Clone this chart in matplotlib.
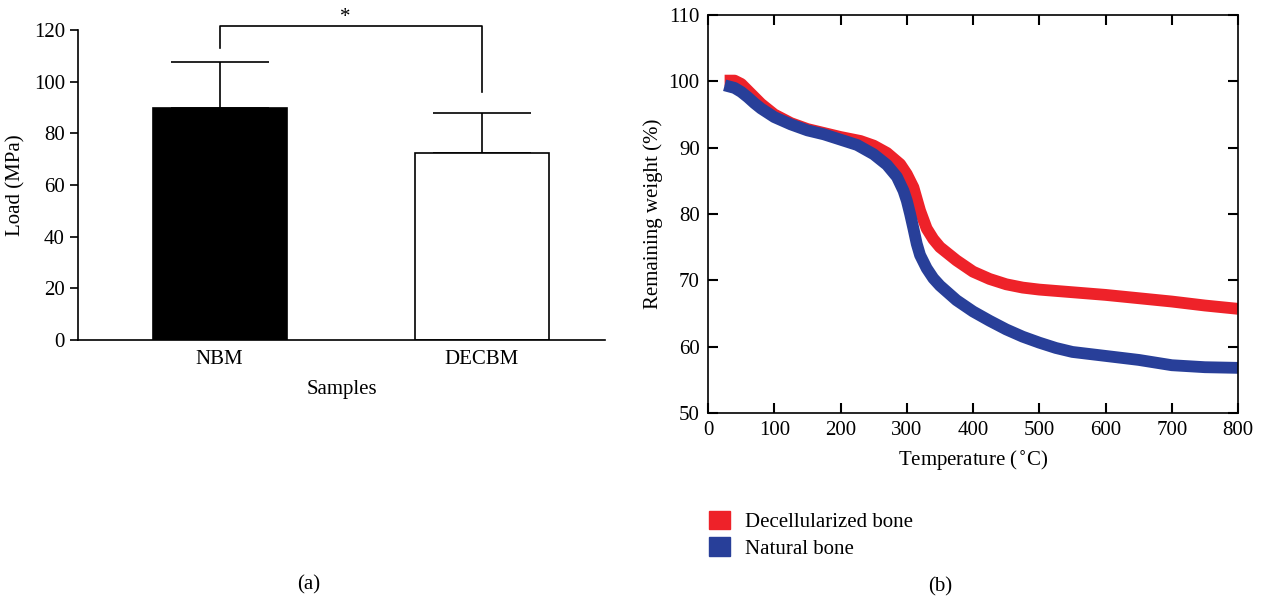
import matplotlib.pyplot as plt
from matplotlib.patches import Patch

plt.rcParams['font.family'] = ['Liberation Serif', 'DejaVu Serif']

# Panel (a): load per sample
samples = ['NBM', 'DECBM']
load_mean = [90.0, 72.5]
load_err = [17.5, 15.5]
bar_colors = ['black', 'white']
# significance bracket (data units)
sig_top = 121.5
sig_legs = [113.0, 96.0]

# Panel (b): TGA curves
temp_dec = [25, 40, 50, 60, 70, 80, 100, 125, 150, 175, 200, 230, 250, 270, 290, 300,
            310, 320, 330, 340, 350, 375, 400, 425, 450, 475, 500, 550, 600, 650, 700, 750, 800]
weight_dec = [100.1, 100.1, 99.6, 98.6, 97.6, 96.6, 95.0, 93.7, 92.8, 92.2, 91.6, 91.0, 90.3, 89.2, 87.5, 86.0,
              84.0, 80.5, 77.8, 76.2, 75.0, 73.0, 71.3, 70.2, 69.4, 68.9, 68.6, 68.2, 67.8, 67.3, 66.8, 66.2, 65.7]
temp_nat = [25, 40, 50, 60, 70, 80, 100, 125, 150, 175, 200, 225, 250, 270, 285, 295, 300,
            305, 310, 315, 320, 330, 340, 350, 375, 400, 425, 450, 475, 500, 525, 550, 600, 650, 700, 750, 800]
weight_nat = [99.4, 99.0, 98.4, 97.6, 96.7, 95.9, 94.6, 93.5, 92.6, 92.0, 91.2, 90.4, 89.0, 87.4, 85.6, 83.5, 82.0,
              80.0, 77.8, 75.5, 73.8, 71.8, 70.3, 69.2, 67.0, 65.3, 63.9, 62.6, 61.5, 60.6, 59.8, 59.2, 58.6, 58.0, 57.2, 56.9, 56.8]

red = '#ee2229'
blue = '#283f99'
fs = 15

fig = plt.figure(figsize=(12.61, 5.98), dpi=100)

# ---------------- (a)
ax1 = fig.add_axes([0.0619, 0.4314, 0.418, 0.5184])
x = [0, 1]
ax1.bar(x, load_mean, width=0.51, color=bar_colors, edgecolor='black', linewidth=1.2, zorder=2)
ax1.errorbar(x, load_mean, yerr=[[0, 0], load_err], fmt='none', ecolor='black',
             elinewidth=1.2, capsize=35, capthick=1.2, zorder=1)
ax1.plot([x[0], x[0], x[1], x[1]], [sig_legs[0], sig_top, sig_top, sig_legs[1]],
         color='black', linewidth=1.2, clip_on=False)
ax1.text(0.48, 125, '*', ha='center', va='center', fontsize=fs)
ax1.set_xlim(-0.54, 1.47)
ax1.set_ylim(0, 120)
ax1.set_yticks(range(0, 121, 20))
ax1.set_xticks(x)
ax1.set_xticklabels(samples, fontsize=fs)
ax1.tick_params(axis='x', length=0, pad=7)
ax1.tick_params(axis='y', direction='out', length=6, width=1.2, labelsize=fs)
ax1.spines['top'].set_visible(False)
ax1.spines['right'].set_visible(False)
for s in ['left', 'bottom']:
    ax1.spines[s].set_linewidth(1.2)
ax1.set_ylabel('Load (MPa)', fontsize=fs, labelpad=6)
ax1.set_xlabel('Samples', fontsize=fs, labelpad=8)

# ---------------- (b)
ax2 = fig.add_axes([0.5615, 0.3094, 0.4203, 0.6656])
ax2.plot(temp_dec, weight_dec, color=red, linewidth=8.5, solid_capstyle='butt')
ax2.plot(temp_nat, weight_nat, color=blue, linewidth=8.5, solid_capstyle='butt')
ax2.set_xlim(0, 800)
ax2.set_ylim(50, 110)
ax2.set_xticks(range(0, 801, 100))
ax2.set_yticks(range(50, 111, 10))
ax2.tick_params(direction='in', length=7, width=1.5, top=True, right=True, labelsize=fs, pad=6)
for s in ax2.spines.values():
    s.set_linewidth(1.2)
ax2.set_xlabel('Temperature ($^{\\circ}$C)', fontsize=fs, labelpad=6)
ax2.set_ylabel('Remaining weight (%)', fontsize=fs)

handles = [Patch(color=red, label='Decellularized bone'),
           Patch(color=blue, label='Natural bone')]
fig.legend(handles=handles, loc='upper left', bbox_to_anchor=(0.551, 1 - 496 / 598),
           frameon=False, fontsize=fs, handlelength=1.0, handleheight=1.0,
           handletextpad=0.7, labelspacing=0.25, borderaxespad=0.3)

fig.text(309 / 1261, 1 - 585 / 598, '(a)', ha='center', va='center', fontsize=fs)
fig.text(940 / 1261, 1 - 587 / 598, '(b)', ha='center', va='center', fontsize=fs)

fig.savefig('out.png', dpi=100)
